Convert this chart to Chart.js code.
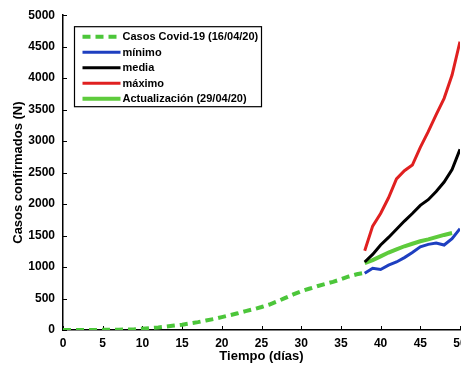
<!DOCTYPE html>
<html><head><meta charset="utf-8">
<script src="https://cdn.jsdelivr.net/npm/chart.js@4/dist/chart.umd.min.js"></script>
<style>
html,body{margin:0;padding:0;background:#fff;overflow:hidden}
#wrap{width:461px;height:374px;overflow:hidden;position:relative;background:#fff}
#c{position:absolute;left:0;top:0}
</style></head><body>
<div id="wrap"><canvas id="c" width="490" height="374" style="width:490px;height:374px"></canvas></div>
<script>
// ---- data ----
const casosDays   = [0,1,2,3,4,5,6,7,8,9,10,11,12,13,14,15,16,17,18,19,20,21,22,23,24,25,26,27,28,29,30,31,32,33,34,35,36,37,38];
const casosValues = [0,0,0,0,1,2,3,5,8,12,20,30,40,55,70,85,105,125,150,175,205,235,265,300,330,365,405,455,510,565,615,655,695,730,765,805,850,885,910];
const simDays     = [38,39,40,41,42,43,44,45,46,47,48,49,50];
const minimo      = [900,980,960,1030,1080,1150,1230,1320,1360,1380,1350,1450,1610];
const media       = [1080,1200,1350,1470,1600,1730,1850,1980,2070,2200,2350,2550,2870];
const maximo      = [1260,1650,1850,2100,2400,2530,2620,2900,3150,3420,3680,4050,4580];
const actDays     = [38,39,40,41,42,43,44,45,46,47,48,49];
const actualizacion = [1060,1110,1170,1230,1280,1330,1370,1410,1440,1475,1510,1540];
const seriesLabels = ['Casos Covid-19 (16/04/20)','mínimo','media','máximo','Actualización (29/04/20)'];
const xTitle = 'Tiempo (días)';
const yTitle = 'Casos confirmados (N)';

const pts = (xs, ys) => xs.map((x, i) => ({x, y: ys[i]}));
const FONT = '"Liberation Sans", Arial, sans-serif';

const inwardTicks = {
  id: 'inwardTicks',
  beforeDatasetsDraw(chart) {
    const {ctx, scales: {x, y}} = chart;
    ctx.save();
    ctx.strokeStyle = '#000';
    ctx.lineWidth = 1;
    x.ticks.forEach(t => {
      const px = Math.round(x.getPixelForValue(t.value)) + 0.5;
      ctx.beginPath(); ctx.moveTo(px, y.bottom); ctx.lineTo(px, y.bottom - 4); ctx.stroke();
    });
    y.ticks.forEach(t => {
      const py = Math.round(y.getPixelForValue(t.value)) + 0.5;
      ctx.beginPath(); ctx.moveTo(x.left, py); ctx.lineTo(x.left + 4, py); ctx.stroke();
    });
    ctx.restore();
  }
};

const boxLegend = {
  id: 'boxLegend',
  afterDatasetsDraw(chart) {
    const {ctx, chartArea} = chart;
    const bx = chartArea.left + 11.5, by = chartArea.top + 11.5, bw = 187, bh = 80;
    ctx.save();
    ctx.fillStyle = '#fff';
    ctx.fillRect(bx, by, bw, bh);
    ctx.strokeStyle = '#000';
    ctx.lineWidth = 1.2;
    ctx.strokeRect(bx, by, bw, bh);
    ctx.font = 'bold 11px ' + FONT;
    ctx.textBaseline = 'middle';
    ctx.textAlign = 'left';
    chart.data.datasets.forEach((ds, i) => {
      const ry = by + 10 + i * 15.5;
      ctx.beginPath();
      ctx.strokeStyle = ds.borderColor;
      ctx.lineWidth = ds.borderWidth;
      ctx.setLineDash(ds.borderDash || []);
      ctx.moveTo(bx + 8, ry);
      ctx.lineTo(bx + 46, ry);
      ctx.stroke();
      ctx.setLineDash([]);
      ctx.fillStyle = '#000';
      ctx.fillText(ds.label, bx + 48, ry + 0.5);
    });
    ctx.restore();
  }
};

new Chart(document.getElementById('c'), {
  type: 'line',
  data: {
    datasets: [
      {label: seriesLabels[0], data: pts(casosDays, casosValues), borderColor: '#4cc63a', borderWidth: 4, borderDash: [8, 5]},
      {label: seriesLabels[1], data: pts(simDays, minimo), borderColor: '#1e3fc0', borderWidth: 3},
      {label: seriesLabels[2], data: pts(simDays, media), borderColor: '#000000', borderWidth: 3},
      {label: seriesLabels[3], data: pts(simDays, maximo), borderColor: '#e02020', borderWidth: 3},
      {label: seriesLabels[4], data: pts(actDays, actualizacion), borderColor: '#5ecb3c', borderWidth: 4}
    ]
  },
  options: {
    responsive: false,
    animation: false,
    devicePixelRatio: 1,
    elements: {point: {radius: 0}, line: {tension: 0, fill: false}},
    layout: {padding: {left: 0, top: 13, right: 30, bottom: 0}},
    plugins: {legend: {display: false}, tooltip: {enabled: false}},
    scales: {
      x: {
        type: 'linear', min: 0, max: 50,
        afterFit(s) { s.height = 44; },
        grid: {display: false, drawTicks: false},
        border: {display: true, color: '#000', width: 1.5},
        ticks: {stepSize: 5, padding: 6, color: '#000', font: {family: FONT, size: 12, weight: 'bold'}, maxRotation: 0, autoSkip: false, callback: v => String(v)},
        title: {display: true, text: xTitle, color: '#000', font: {family: FONT, size: 13, weight: 'bold'}, padding: {top: 0, bottom: 10}}
      },
      y: {
        min: 0, max: 5000,
        afterFit(s) { s.width = 63; },
        grid: {display: false, drawTicks: false},
        border: {display: true, color: '#000', width: 1.5},
        ticks: {stepSize: 500, padding: 8, color: '#000', font: {family: FONT, size: 12, weight: 'bold'}, callback: v => String(v)},
        title: {display: true, text: yTitle, color: '#000', font: {family: FONT, size: 13, weight: 'bold'}, padding: {top: 11, bottom: 0}}
      }
    }
  },
  plugins: [inwardTicks, boxLegend]
});
</script>
</body></html>
